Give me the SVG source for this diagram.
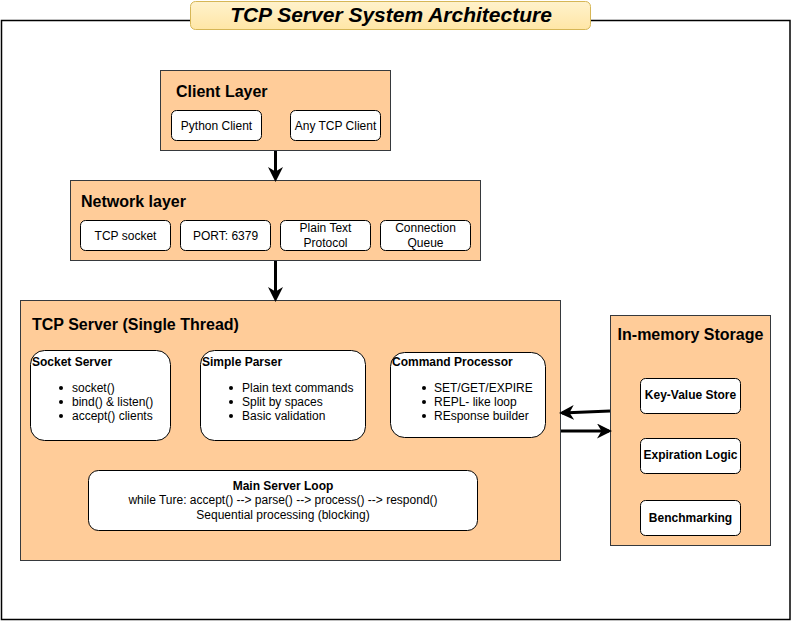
<svg xmlns="http://www.w3.org/2000/svg" width="791" height="621" viewBox="0 0 791 621">
<defs>
<linearGradient id="tg" x1="0" y1="0" x2="0" y2="1"><stop offset="0" stop-color="#fff2cc"/><stop offset="1" stop-color="#ffe6a6"/></linearGradient>
<marker id="ah" viewBox="0 0 10 10" refX="8" refY="5" markerWidth="5" markerHeight="5" markerUnits="strokeWidth" orient="auto"><path d="M0,0 L10,5 L0,10 L3,5 Z" fill="#000"/></marker>
</defs>
<style>
.layer{fill:#ffcc99;stroke:#36393d;stroke-width:1}
.box{fill:#fff;stroke:#000;stroke-width:1}
text{font-family:"Liberation Sans",Arial,sans-serif;fill:#000}
.h{font-size:16px;font-weight:bold}
.t{font-size:12px}
.b{font-size:12px;font-weight:bold}
.c{text-anchor:middle}
.conn{stroke:#000;stroke-width:3;fill:none;marker-end:url(#ah)}
</style>
<rect x="0" y="0" width="791" height="621" fill="#fff"/>
<rect id="frame" x="1.5" y="20.5" width="788.5" height="599" fill="none" stroke="#000" stroke-width="1.5"/>
<g id="title">
<rect x="190.5" y="1.5" width="400" height="28" rx="5" fill="url(#tg)" stroke="#d6b656"/>
<text x="391" y="22" class="c" style="font-size:21px;font-weight:bold;font-style:italic">TCP Server System Architecture</text>
</g>
<g id="client-layer">
<rect class="layer" x="160.5" y="70.5" width="230" height="80"/>
<text class="h" x="176" y="97">Client Layer</text>
<rect class="box" x="171.5" y="110.5" width="90" height="30" rx="5"/>
<text class="t c" x="216.5" y="130">Python Client</text>
<rect class="box" x="290.5" y="110.5" width="90" height="30" rx="5"/>
<text class="t c" x="335.5" y="130">Any TCP Client</text>
</g>
<g id="network-layer">
<rect class="layer" x="70.5" y="180.5" width="410" height="80"/>
<text class="h" x="81" y="207">Network layer</text>
<rect class="box" x="80.5" y="220.5" width="90" height="30" rx="5"/>
<text class="t c" x="125.5" y="240">TCP socket</text>
<rect class="box" x="180.5" y="220.5" width="90" height="30" rx="5"/>
<text class="t c" x="225.5" y="240">PORT: 6379</text>
<rect class="box" x="280.5" y="220.5" width="90" height="30" rx="5"/>
<text class="t c" x="325.5" y="232">Plain Text</text>
<text class="t c" x="325.5" y="247">Protocol</text>
<rect class="box" x="380.5" y="220.5" width="90" height="30" rx="5"/>
<text class="t c" x="425.5" y="232">Connection</text>
<text class="t c" x="425.5" y="247">Queue</text>
</g>
<g id="tcp-server">
<rect class="layer" x="20.5" y="300.5" width="540" height="260"/>
<text class="h" x="32" y="330">TCP Server (Single Thread)</text>
<rect class="box" x="30.5" y="350.5" width="140" height="90" rx="14"/>
<text class="b" x="32" y="366">Socket Server</text>
<circle cx="61" cy="388" r="2"/><text class="t" x="72" y="392">socket()</text>
<circle cx="61" cy="402" r="2"/><text class="t" x="72" y="406">bind() &amp; listen()</text>
<circle cx="61" cy="416" r="2"/><text class="t" x="72" y="420">accept() clients</text>
<rect class="box" x="200.5" y="350.5" width="165" height="90" rx="14"/>
<text class="b" x="202" y="366">Simple Parser</text>
<circle cx="231" cy="388" r="2"/><text class="t" x="242" y="392">Plain text commands</text>
<circle cx="231" cy="402" r="2"/><text class="t" x="242" y="406">Split by spaces</text>
<circle cx="231" cy="416" r="2"/><text class="t" x="242" y="420">Basic validation</text>
<rect class="box" x="390.5" y="352.5" width="155" height="85" rx="14"/>
<text class="b" x="392" y="366">Command Processor</text>
<circle cx="424" cy="388" r="2"/><text class="t" x="434" y="392">SET/GET/EXPIRE</text>
<circle cx="424" cy="402" r="2"/><text class="t" x="434" y="406">REPL- like loop</text>
<circle cx="424" cy="416" r="2"/><text class="t" x="434" y="420">REsponse builder</text>
<rect class="box" x="88.5" y="470.5" width="389" height="60" rx="10"/>
<text class="b c" x="283" y="490">Main Server Loop</text>
<text class="t c" x="283" y="504">while Ture: accept() --&gt; parse() --&gt; process() --&gt; respond()</text>
<text class="t c" x="283" y="519">Sequential processing (blocking)</text>
</g>
<g id="storage">
<rect class="layer" x="610.5" y="315.5" width="160" height="230"/>
<text class="h c" x="690.5" y="340">In-memory Storage</text>
<rect class="box" x="640.5" y="378.5" width="100" height="35" rx="5"/>
<text class="b c" x="690.5" y="399">Key-Value Store</text>
<rect class="box" x="640.5" y="438.5" width="100" height="35" rx="5"/>
<text class="b c" x="690.5" y="459">Expiration Logic</text>
<rect class="box" x="640.5" y="500.5" width="100" height="35" rx="5"/>
<text class="b c" x="690.5" y="522">Benchmarking</text>
</g>
<g id="connectors">
<line class="conn" x1="275.5" y1="151" x2="275.5" y2="179"/>
<line class="conn" x1="275.5" y1="261" x2="275.5" y2="299"/>
<line class="conn" x1="610" y1="411" x2="562" y2="413"/>
<line class="conn" x1="561" y1="431" x2="609" y2="431"/>
</g>
</svg>
